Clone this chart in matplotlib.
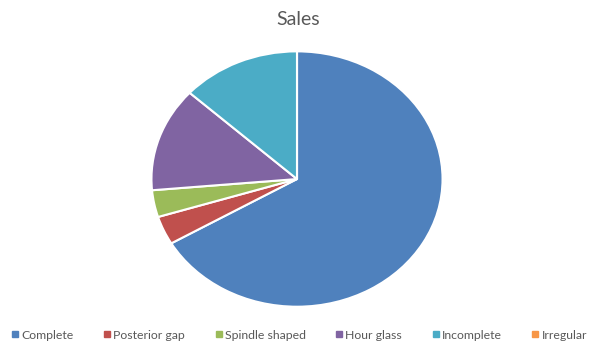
import matplotlib.pyplot as plt
from matplotlib.lines import Line2D

labels = ['Complete', 'Posterior gap', 'Spindle shaped', 'Hour glass', 'Incomplete', 'Irregular']
sales = [66.6, 3.6, 3.4, 13.2, 13.2, 0]
colors = ['#4F81BD', '#C0504D', '#9BBB59', '#8064A2', '#4BACC6', '#F79646']

plt.rcParams['font.family'] = ['Lato', 'DejaVu Sans']

fig = plt.figure(figsize=(5.92, 3.49), dpi=100)
ax = fig.add_axes([0.2534, 0.1175, 0.4966, 0.739])
ax.pie(sales, colors=colors, startangle=90, counterclock=False,
       wedgeprops=dict(edgecolor='white', linewidth=1.5))
ax.set_aspect('auto')
ax.set_xlim(-1.01, 1.01)
ax.set_ylim(-1.01, 1.01)

fig.text(0.503, 0.945, 'Sales', ha='center', va='center', fontsize=14, color='#595959')

handles = [Line2D([], [], marker='s', linestyle='', markersize=4,
                  markerfacecolor=c, markeredgecolor=c) for c in colors]
fig.legend(handles, labels, loc='center', bbox_to_anchor=(0.505, 0.04), ncol=6,
           frameon=False, fontsize=8.8, handletextpad=0.15, columnspacing=2.4,
           handlelength=0.7, labelcolor='#595959')

fig.savefig('out.png', dpi=100)
